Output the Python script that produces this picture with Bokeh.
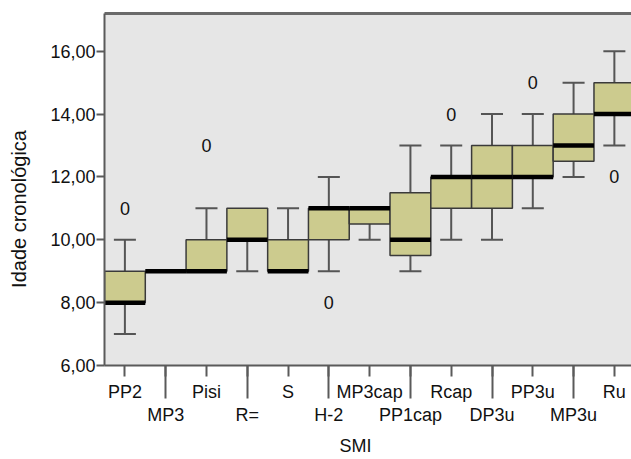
from bokeh.plotting import figure
from bokeh.models import FixedTicker, LinearAxis, Range1d
from bokeh.core.properties import value
from bokeh.embed import file_html
from bokeh.resources import INLINE
import numpy as np

# ---- data ----
categories = ["PP2", "MP3", "Pisi", "R=", "S", "H-2", "MP3cap", "PP1cap",
              "Rcap", "DP3u", "PP3u", "MP3u", "Ru"]
whisker_low = [7, 9, 9, 9, 9, 9, 10, 9, 10, 10, 11, 12, 13]
q1 = [8, 9, 9, 10, 9, 10, 10.5, 9.5, 11, 11, 12, 12.5, 14]
median = [8, 9, 9, 10, 9, 11, 11, 10, 12, 12, 12, 13, 14]
q3 = [9, 9, 10, 11, 10, 11, 11, 11.5, 12, 13, 13, 14, 15]
whisker_high = [10, 9, 11, 11, 11, 12, 11, 13, 13, 14, 14, 15, 16]
outlier_cat = ["PP2", "Pisi", "H-2", "Rcap", "PP3u", "Ru"]
outlier_val = [11, 13, 8, 14, 15, 12]
outlier_label = ["0", "0", "0", "0", "0", "0"]
y_ticks = [6, 8, 10, 12, 14, 16]
y_tick_labels = ["6,00", "8,00", "10,00", "12,00", "14,00", "16,00"]
x_title = "SMI"
y_title = "Idade cronológica"

FONT = "Liberation Sans"
FS = "18px"
BOX_FILL = "#CCCB8E"
BOX_LINE = "#3a3a3a"
WHISK = "#555555"
AXIS = "#5a5a5a"
NBSP = "\u00a0"

x = np.arange(len(categories), dtype=float)
lo = np.array(whisker_low, dtype=float)
b1 = np.array(q1, dtype=float)
md = np.array(median, dtype=float)
b3 = np.array(q3, dtype=float)
hi = np.array(whisker_high, dtype=float)

p = figure(width=631, height=459, output_backend="svg", toolbar_location=None,
           x_range=Range1d(-0.5, 12.42), y_range=Range1d(6, 17.2),
           min_border_left=104, min_border_right=0, min_border_top=13,
           min_border_bottom=93)
p.background_fill_color = "#E6E6E6"
p.border_fill_color = "white"
p.outline_line_color = None
p.xgrid.visible = False
p.ygrid.visible = False

# whiskers (only where they extend beyond the box)
up = hi > b3
dn = lo < b1
cap = 0.27
p.segment(x0=x[up], y0=b3[up], x1=x[up], y1=hi[up], line_color=WHISK, line_width=2)
p.segment(x0=x[up] - cap, y0=hi[up], x1=x[up] + cap, y1=hi[up], line_color=WHISK, line_width=2)
p.segment(x0=x[dn], y0=b1[dn], x1=x[dn], y1=lo[dn], line_color=WHISK, line_width=2)
p.segment(x0=x[dn] - cap, y0=lo[dn], x1=x[dn] + cap, y1=lo[dn], line_color=WHISK, line_width=2)

# boxes
p.quad(left=x - 0.5, right=x + 0.5, bottom=b1, top=b3,
       fill_color=BOX_FILL, line_color=BOX_LINE, line_width=1.5)
# medians
p.segment(x0=x - 0.5, y0=md, x1=x + 0.5, y1=md, line_color="black", line_width=4.5)

# outlier labels
ox = [categories.index(c) for c in outlier_cat]
p.text(x=ox, y=outlier_val, text=outlier_label, text_font=value(FONT),
       text_font_size=FS, text_align="center", text_baseline="middle",
       text_color="#111111")

# x axis
xa = p.xaxis[0]
xa.ticker = FixedTicker(ticks=list(range(len(categories))),
                        minor_ticks=[i for i in range(len(categories)) if i % 2 == 1])
xa.major_label_overrides = {i: (c if i % 2 == 0 else "\n" + c) for i, c in enumerate(categories)}
xa.major_tick_out = 11
xa.major_tick_in = 0
xa.minor_tick_out = 33
xa.minor_tick_in = 0
xa.major_tick_line_color = AXIS
xa.minor_tick_line_color = AXIS
xa.major_tick_line_width = 2
xa.minor_tick_line_width = 2
xa.axis_line_color = AXIS
xa.axis_line_width = 2
xa.major_label_text_font = FONT
xa.major_label_text_font_size = FS
xa.major_label_text_color = "#111111"
xa.major_label_text_line_height = 1.18
xa.major_label_standoff = -17
xa.axis_label = x_title + NBSP * 5
xa.axis_label_text_font = FONT
xa.axis_label_text_font_size = FS
xa.axis_label_text_font_style = "normal"
xa.axis_label_text_color = "#111111"
xa.axis_label_standoff = 8

# y axis
ya = p.yaxis[0]
ya.ticker = FixedTicker(ticks=y_ticks)
ya.major_label_overrides = {t: l for t, l in zip(y_ticks, y_tick_labels)}
ya.major_tick_out = 8
ya.major_tick_in = 0
ya.minor_tick_out = 0
ya.minor_tick_in = 0
ya.major_tick_line_color = AXIS
ya.major_tick_line_width = 2
ya.axis_line_color = AXIS
ya.axis_line_width = 2
ya.major_label_text_font = FONT
ya.major_label_text_font_size = FS
ya.major_label_text_color = "#111111"
ya.major_label_standoff = 1
ya.axis_label = y_title + NBSP * 7
ya.axis_label_text_font = FONT
ya.axis_label_text_font_size = "20px"
ya.axis_label_text_font_style = "normal"
ya.axis_label_text_color = "#111111"
ya.axis_label_standoff = 17

# top frame line
top = LinearAxis(ticker=FixedTicker(ticks=[]), major_tick_out=0, major_tick_in=0,
                 minor_tick_out=0, minor_tick_in=0, major_label_standoff=0,
                 axis_line_color="#6a6a6a", axis_line_width=3)
p.add_layout(top, "above")

open("out.html", "w").write(file_html(p, INLINE))
